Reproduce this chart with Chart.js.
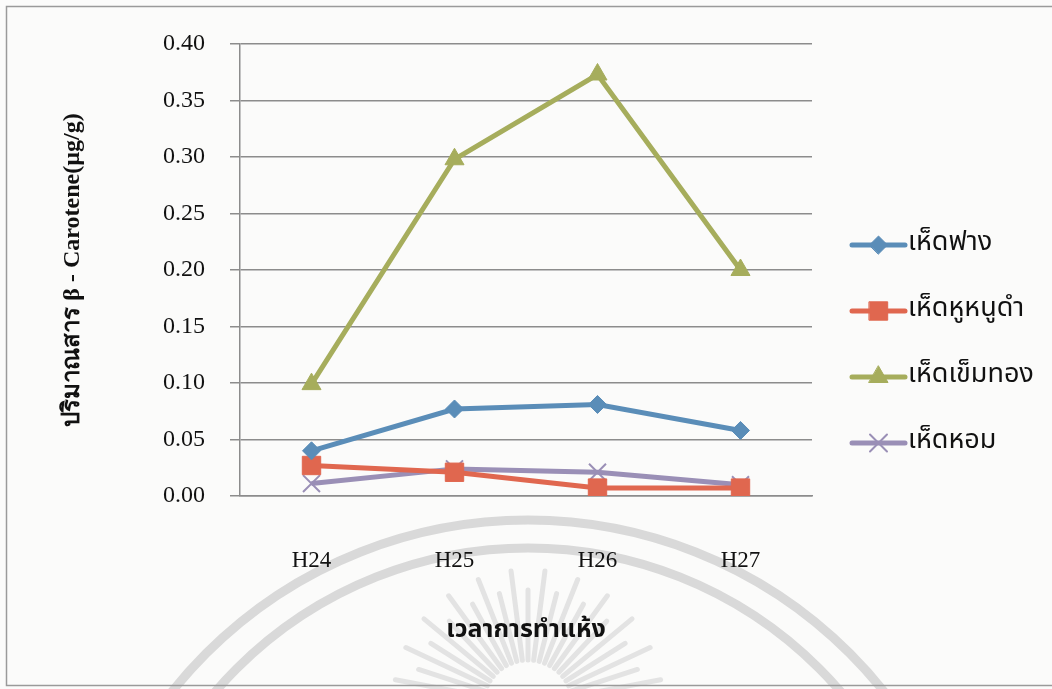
<!DOCTYPE html>
<html>
<head>
<meta charset="utf-8">
<script src="https://cdn.jsdelivr.net/npm/chart.js@4/dist/chart.umd.min.js"></script>
<style>
  html,body{margin:0;padding:0;background:#fbfbfa;}
  #wrap{width:1052px;height:689px;position:relative;}
</style>
</head>
<body>
<div id="wrap"><canvas id="c" width="1052" height="689"></canvas></div>
<script>
// drying time vs beta-carotene content per mushroom type
const labels = ['H24','H25','H26','H27'];
const hedFang = [0.040, 0.077, 0.081, 0.058];
const hedHuNuDam = [0.027, 0.021, 0.007, 0.007];
const hedKhemThong = [0.099, 0.298, 0.373, 0.200];
const hedHom = [0.011, 0.024, 0.021, 0.010];
const seriesNames = ['เห็ดฟาง','เห็ดหูหนูดำ','เห็ดเข็มทอง','เห็ดหอม'];
const yTicks = [0,0.05,0.10,0.15,0.20,0.25,0.30,0.35,0.40];

const serif = "'Liberation Serif','Times New Roman',serif";
const thai = "'Noto Sans Thai','Noto Serif Thai','Loma','Garuda','TlwgTypo','Liberation Serif',serif";

function ds(name, data, color, style, radius, bw){
  return {label:name, data, borderColor:color, backgroundColor:color, borderWidth:5,
    pointStyle:style, pointRadius:radius, pointHoverRadius:radius, pointBorderColor:color,
    pointBackgroundColor:color, pointBorderWidth:bw, tension:0};
}

// faint page background, frame and the round seal behind the plot
const paper = {
  id:'paper',
  beforeDraw(chart){
    const ctx = chart.ctx;
    ctx.save();
    ctx.fillStyle = '#fbfbfa';
    ctx.fillRect(0,0,chart.width,chart.height);
    ctx.strokeStyle = '#d9d9d9';
    ctx.lineWidth = 9;
    ctx.beginPath(); ctx.arc(528,975,455,Math.PI,2*Math.PI); ctx.stroke();
    ctx.beginPath(); ctx.arc(528,960,412,Math.PI,2*Math.PI); ctx.stroke();
    ctx.strokeStyle = '#e3e3e3';
    ctx.lineWidth = 5;
    ctx.lineCap = 'round';
    for(let i=0;i<=22;i++){
      const a = Math.PI*(1.06 + 0.88*i/22);
      const r0 = 45, r1 = (i%2 ? 115 : 135);
      ctx.beginPath();
      ctx.moveTo(528+Math.cos(a)*r0, 705+Math.sin(a)*r0);
      ctx.lineTo(528+Math.cos(a)*r1, 705+Math.sin(a)*r1);
      ctx.stroke();
    }
    ctx.strokeStyle = '#9a9a9a';
    ctx.lineWidth = 1.5;
    ctx.lineCap = 'butt';
    ctx.beginPath();
    ctx.moveTo(1060,6.5); ctx.lineTo(6.5,6.5); ctx.lineTo(6.5,685.5); ctx.lineTo(1060,685.5);
    ctx.stroke();
    ctx.restore();
  }
};

// legend on the right: short line with the marker in the middle
const sideLegend = {
  id:'sideLegend',
  afterDraw(chart){
    const ctx = chart.ctx;
    const x0 = 852, x1 = 905, top = 245, step = 66;
    ctx.save();
    chart.data.datasets.forEach((d,i)=>{
      const y = top + i*step;
      ctx.strokeStyle = d.borderColor;
      ctx.lineWidth = 5;
      ctx.lineCap = 'round';
      ctx.beginPath(); ctx.moveTo(x0,y); ctx.lineTo(x1,y); ctx.stroke();
      ctx.fillStyle = d.pointBackgroundColor;
      ctx.strokeStyle = d.pointBorderColor;
      ctx.lineWidth = d.pointBorderWidth;
      Chart.helpers.drawPoint(ctx,{pointStyle:d.pointStyle,radius:d.pointRadius,rotation:0,borderWidth:d.pointBorderWidth},(x0+x1)/2,y);
      ctx.fillStyle = '#111';
      ctx.font = '27px ' + thai;
      ctx.textBaseline = 'middle';
      ctx.fillText(d.label, x1+3, y);
    });
    ctx.restore();
  }
};

new Chart(document.getElementById('c'),{
  type:'line',
  data:{labels, datasets:[
    ds(seriesNames[0], hedFang, '#5a8db8', 'rectRot', 9, 1),
    ds(seriesNames[1], hedHuNuDam, '#e0674f', 'rect', 13, 1),
    ds(seriesNames[2], hedKhemThong, '#a6ad5c', 'triangle', 11, 1),
    ds(seriesNames[3], hedHom, '#9a8fb6', 'crossRot', 12, 2)
  ]},
  plugins:[paper, sideLegend],
  options:{
    responsive:false, animation:false,
    layout:{padding:{left:0,right:240,top:44,bottom:0}},
    plugins:{legend:{display:false}, tooltip:{enabled:false}},
    scales:{
      x:{
        offset:true,
        grid:{display:false, drawTicks:false},
        border:{display:true, color:'#8c8c8c', width:1.5},
        ticks:{color:'#111', font:{family:serif, size:23}, padding:51},
        title:{display:true, text:'เวลาการทำแห้ง', color:'#111', font:{family:thai, size:25, weight:'bold'}, padding:{top:0,bottom:42}},
        afterFit(s){ s.height = 193; }
      },
      y:{
        min:0, max:0.4,
        afterBuildTicks(s){ s.ticks = yTicks.map(v=>({value:v})); },
        grid:{color:'#8c8c8c', lineWidth:1.5, tickLength:10},
        border:{display:true, color:'#8c8c8c', width:1.5},
        ticks:{color:'#111', font:{family:serif, size:24}, padding:25, callback:v=>v.toFixed(2)},
        title:{display:true, text:'ปริมาณสาร β - Carotene(µg/g)', color:'#111', font:{family:serif, size:24, weight:'bold'}, padding:{top:58,bottom:0}},
        afterFit(s){ s.width = 240; }
      }
    }
  }
});
</script>
</body>
</html>
